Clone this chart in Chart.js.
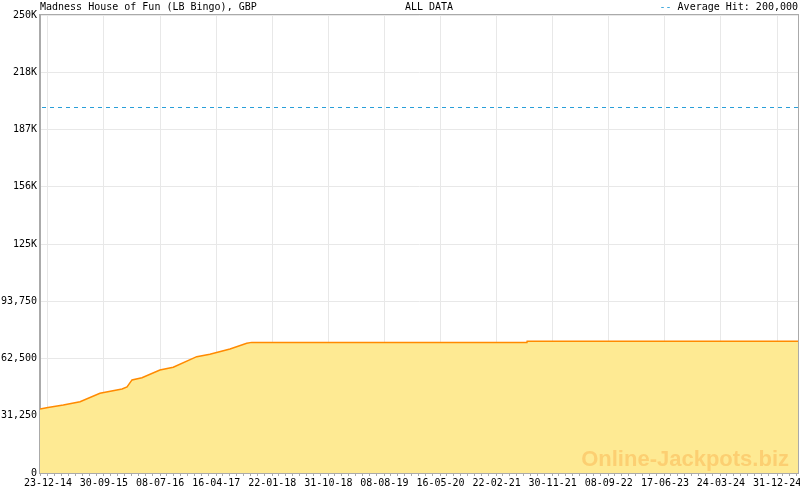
<!DOCTYPE html>
<html>
<head>
<meta charset="utf-8">
<script src="https://cdn.jsdelivr.net/npm/chart.js@4/dist/chart.umd.min.js"></script>
<style>
  html, body { margin: 0; padding: 0; background: #fff; }
  #wrap { width: 800px; height: 490px; }
</style>
</head>
<body>
<div id="wrap"><canvas id="jackpotChart" width="800" height="490"></canvas></div>
<script>
// jackpot history
const seriesDates = [
  '2014-11-13', '2014-12-23', '2015-03-10', '2015-06-02', '2015-09-10',
  '2015-12-30', '2016-01-24', '2016-02-18', '2016-04-08', '2016-07-07',
  '2016-09-12', '2017-01-08', '2017-03-15', '2017-06-24', '2017-09-16',
  '2017-10-11', '2021-07-24', '2021-07-25', '2025-04-15'
];
const seriesValues = [
  34900, 35800, 37100, 38900, 43500,
  45900, 47000, 50800, 52000, 56200,
  57700, 63500, 64800, 67700, 70800,
  71300, 71300, 71870, 71870
];
const xTickLabels = ['23-12-14', '30-09-15', '08-07-16', '16-04-17', '22-01-18', '31-10-18', '08-08-19',
  '16-05-20', '22-02-21', '30-11-21', '08-09-22', '17-06-23', '24-03-24', '31-12-24'];
const yTickLabels = ['0', '31,250', '62,500', '93,750', '125K', '156K', '187K', '218K', '250K'];
const yMax = 250000;
const averageHit = 200000;
const xStart = '2014-11-13';
const xEnd = '2025-04-15';

const titleText = 'Madness House of Fun (LB Bingo), GBP';
const rangeText = 'ALL DATA';
const avgText = 'Average Hit: 200,000';
const watermark = 'Online-Jackpots.biz';

function dayNum(iso) {
  return Date.parse(iso + 'T00:00:00Z') / 86400000;
}
function labelDay(lbl) {
  const p = lbl.split('-');
  return Date.UTC(2000 + Number(p[2]), Number(p[1]) - 1, Number(p[0])) / 86400000;
}

const points = seriesDates.map((d, i) => ({ x: dayNum(d), y: seriesValues[i] }));
const monoFont = 'DejaVu Sans Mono';

Chart.defaults.font.family = monoFont;
Chart.defaults.font.size = 10;
Chart.defaults.color = '#000';

const extras = {
  id: 'extras',
  beforeDatasetsDraw(chart) {
    const { ctx, chartArea, scales } = chart;
    // dashed average line
    const y = Math.round(scales.y.getPixelForValue(averageHit)) + 0.5;
    ctx.save();
    ctx.strokeStyle = '#2a9ed8';
    ctx.lineWidth = 1;
    ctx.setLineDash([4, 4]);
    ctx.beginPath();
    ctx.moveTo(chartArea.left + 2, y);
    ctx.lineTo(chartArea.right, y);
    ctx.stroke();
    ctx.restore();
  },
  afterDatasetsDraw(chart) {
    const { ctx, chartArea } = chart;
    ctx.save();
    ctx.font = 'bold 22px "Liberation Sans", Arial, sans-serif';
    ctx.fillStyle = '#fccf72';
    ctx.textAlign = 'right';
    ctx.textBaseline = 'alphabetic';
    ctx.fillText(watermark, chartArea.right - 9, chartArea.bottom - 7);
    ctx.restore();
  },
  afterDraw(chart) {
    const { ctx, chartArea } = chart;
    ctx.save();
    ctx.strokeStyle = '#aaa';
    ctx.lineWidth = 1;
    ctx.strokeRect(chartArea.left - 0.5, chartArea.top - 0.5,
      chartArea.right - chartArea.left + 1, chartArea.bottom - chartArea.top + 1);

    ctx.font = '10px "' + monoFont + '"';
    ctx.fillStyle = '#000';
    ctx.textBaseline = 'middle';
    ctx.textAlign = 'left';
    ctx.fillText(titleText, chartArea.left, 7);
    ctx.textAlign = 'center';
    ctx.fillText(rangeText, 429, 7);
    ctx.textAlign = 'right';
    ctx.fillText(avgText, chartArea.right, 7);
    const w = ctx.measureText(avgText + ' ').width;
    ctx.fillStyle = '#2a9ed8';
    ctx.fillText('--', chartArea.right - w, 7);
    ctx.restore();
  }
};

const ctx = document.getElementById('jackpotChart').getContext('2d');
const chart = new Chart(ctx, {
  type: 'line',
  data: {
    datasets: [
      {
        label: 'Jackpot',
        data: points,
        borderColor: '#ff8a00',
        borderWidth: 1.5,
        backgroundColor: '#feea93',
        fill: 'origin',
        pointRadius: 0,
        tension: 0,
      },
    ],
  },
  options: {
    responsive: false,
    animation: false,
    layout: { padding: { top: 15, right: 2, left: 0, bottom: 0 } },
    plugins: {
      legend: { display: false },
      tooltip: { enabled: false },
    },
    scales: {
      x: {
        type: 'linear',
        min: dayNum(xStart),
        max: dayNum(xEnd),
        afterBuildTicks(scale) {
          const majors = xTickLabels.map(l => ({ value: labelDay(l), major: true, name: l }));
          const step = (majors[1].value - majors[0].value) / 8;
          const ticks = [];
          let v = majors[0].value;
          while (v - step >= scale.min) v -= step;
          for (; v <= scale.max + 0.01; v += step) {
            const m = majors.find(t => Math.abs(t.value - v) < step / 2);
            ticks.push(m ? m : { value: v, major: false, name: '' });
          }
          scale.ticks = ticks;
        },
        afterFit(scale) { scale.height = 17; },
        ticks: {
          autoSkip: false,
          maxRotation: 0,
          padding: 1,
          callback: (v, i, t) => t[i].name || '',
        },
        grid: {
          color: c => (c.tick && c.tick.major ? '#e8e8e8' : 'rgba(0,0,0,0)'),
          tickColor: '#aaa',
          tickLength: 3,
        },
        border: { color: '#aaa' },
      },
      y: {
        min: 0,
        max: yMax,
        afterBuildTicks(scale) {
          const step = yMax / (yTickLabels.length - 1);
          scale.ticks = yTickLabels.map((l, i) => ({ value: i * step, name: l }));
        },
        afterFit(scale) { scale.width = 40; },
        ticks: {
          padding: 3,
          callback: (v, i, t) => t[i].name,
        },
        grid: {
          color: '#e8e8e8',
          drawTicks: false,
        },
        border: { color: '#aaa' },
      },
    },
  },
  plugins: [extras],
});
</script>
</body>
</html>
